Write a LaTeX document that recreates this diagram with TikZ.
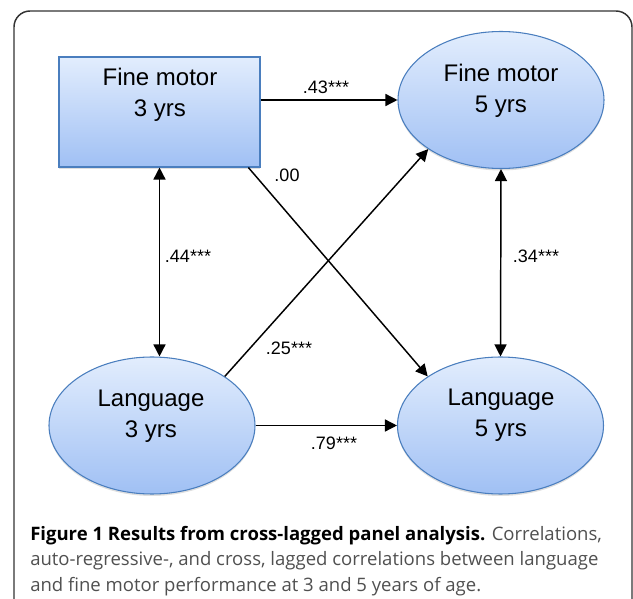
\documentclass[tikz,border=0pt]{standalone}
\usepackage{fontspec}
\setmainfont{Liberation Sans}
\newfontfamily\capfont{Open Sans}
\usetikzlibrary{arrows.meta,shapes.geometric,shadows}
\definecolor{boxtop}{RGB}{226,237,253}
\definecolor{boxbot}{RGB}{160,192,244}
\definecolor{boxline}{RGB}{74,126,190}
\definecolor{capgray}{RGB}{80,80,80}
\begin{document}
\begin{tikzpicture}[x=0.75pt,y=-0.75pt,
  block/.style={rectangle,draw=boxline,line width=0.8pt,top color=boxtop,bottom color=boxbot,minimum width=150.75pt,minimum height=82.5pt,inner sep=0pt,drop shadow={shadow xshift=0pt,shadow yshift=-1.5pt,opacity=0.25}},
  oval/.style={ellipse,draw=boxline,line width=0.8pt,top color=boxtop,bottom color=boxbot,minimum width=154.5pt,minimum height=102.75pt,inner sep=0pt,drop shadow={shadow xshift=0pt,shadow yshift=-1.5pt,opacity=0.25}},
  vartext/.style={align=center,font=\fontsize{18}{23}\selectfont},
  coef/.style={font=\fontsize{13.5}{16}\selectfont},
  effect/.style={line width=1.1pt,-{Triangle[length=9pt,width=9pt]}},
  twoway/.style={line width=1.1pt,{Triangle[length=9pt,width=9pt]}-{Triangle[length=9pt,width=9pt]}}]
\useasboundingbox (0,0) rectangle (633,599);
\def\rTop{11}
\def\rLeft{14}
\def\rRight{632}
  % frame
  \draw[line width=1.1pt,draw=black!80,rounded corners=12pt] (\rLeft,599) -- (\rLeft,\rTop) -- (\rRight,\rTop) -- (\rRight,599);
\path
(159.5,112) node [block] (fm3) {}
(501,100) node [oval] (fm5) {}
(152,425.5) node [oval] (l3) {}
(500.5,425.5) node [oval] (l5) {}
;
\node[vartext] (fm3txt) at (160,95) {Fine motor\\3 yrs};
\node[vartext] (fm5txt) at (501,90.5) {Fine motor\\5 yrs};
\node[vartext] (l3txt) at (151,416) {Language\\3 yrs};
\node[vartext] (l5txt) at (501,415) {Language\\5 yrs};
  \draw[effect] (fm3.east |- fm5.west) -- (fm5.west);
  \draw[effect] (fm3.-32) -- (l5.146);
  \draw[effect] (l3.34) -- (fm5.214);
  \draw[effect] (l3.east) -- (l5.west);
  \draw[twoway] (fm3.south) -- (fm3.south |- l3.north);
  \draw[twoway] (fm5.south) -- (l5.north);
\node[coef] (c43) at (326,87) {.43***};
\node[coef] (c00) at (287,175) {.00};
\node[coef] (c25) at (289,348) {.25***};
\node[coef] (c44) at (188,256) {.44***};
\node[coef] (c34) at (536,256) {.34***};
\node[coef] (c79) at (334,443) {.79***};
\node[anchor=north west,inner sep=0pt,align=left,text=capgray,font=\capfont\fontsize{13.9}{19}\selectfont] (caption) at (30,526)
  {{\color{black}\bfseries Figure 1 Results from cross-lagged panel analysis.} Correlations,\\
   auto-regressive-, and cross, lagged correlations between language\\
   and fine motor performance at 3 and 5 years of age.};
\end{tikzpicture}
\end{document}
